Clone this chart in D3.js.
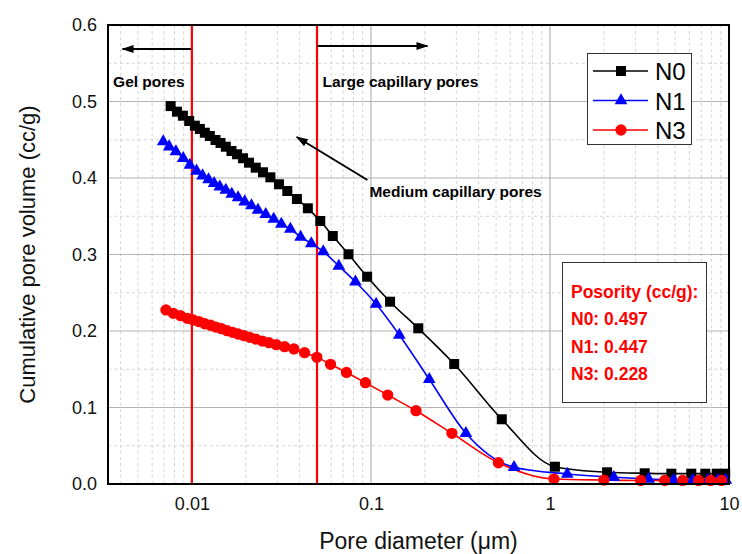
<!DOCTYPE html>
<html>
<head>
<meta charset="utf-8">
<script src="https://cdn.jsdelivr.net/npm/d3@7"></script>
<style>
body{margin:0;background:#fff;}
svg text{font-family:Arial,"Liberation Sans",sans-serif;}
</style>
</head>
<body>
<div id="chart"></div>
<script>
// 数据：孔径 (μm) 与累计孔体积 (cc/g)
const n0Diameter = [0.00761,0.00825,0.00891,0.00966,0.01039,0.01108,0.01181,0.0126,0.01355,0.01445,0.01547,0.01664,0.01788,0.01931,0.02085,0.02273,0.02495,0.02744,0.03064,0.03412,0.03861,0.04444,0.05212,0.06125,0.07494,0.09524,0.1279,0.1839,0.2918,0.5382,1.066,2.085,3.382,4.764,6.157,7.37,8.551,9.524];
const n0Volume = [0.494,0.4867,0.4814,0.4745,0.4684,0.4641,0.4592,0.4549,0.4497,0.4458,0.4409,0.4353,0.431,0.4258,0.42,0.4135,0.4075,0.4009,0.3918,0.383,0.3725,0.3604,0.3438,0.3242,0.3003,0.271,0.2383,0.2035,0.1569,0.0846,0.0226,0.0153,0.014,0.0135,0.0135,0.0135,0.0135,0.0135];

const n1Diameter = [0.00692,0.00747,0.008144,0.008945,0.009747,0.01062,0.01147,0.01239,0.01331,0.01432,0.01547,0.0167,0.01811,0.01973,0.02151,0.02341,0.02584,0.02863,0.0316,0.03548,0.04047,0.04644,0.05417,0.06617,0.08194,0.1069,0.1441,0.2118,0.3392,0.6301,1.249,2.273,3.561,4.908,6.263,7.619,8.661,9.601];
const n1Volume = [0.4475,0.4409,0.4344,0.4258,0.417,0.4092,0.403,0.3978,0.3931,0.3886,0.3843,0.3791,0.3743,0.369,0.3638,0.3582,0.3525,0.3464,0.3399,0.3333,0.3229,0.3144,0.3039,0.285,0.2644,0.2353,0.1948,0.1369,0.0663,0.0218,0.0131,0.0088,0.0065,0.0052,0.0052,0.0052,0.0052,0.0052];

const n3Diameter = [0.007164,0.007866,0.00865,0.009415,0.01017,0.01098,0.01181,0.01271,0.0136,0.01463,0.01573,0.01686,0.01811,0.01956,0.02103,0.02273,0.02475,0.02695,0.02963,0.03296,0.03715,0.04262,0.04988,0.05947,0.07302,0.0932,0.1241,0.1786,0.2834,0.5152,1.053,2.0,3.214,4.373,5.508,6.763,7.886,9.082];
const n3Volume = [0.2275,0.2231,0.22,0.2166,0.2144,0.2122,0.2095,0.2075,0.2052,0.203,0.2004,0.1983,0.1961,0.1939,0.1918,0.1895,0.1869,0.1847,0.1821,0.1795,0.1765,0.1716,0.1656,0.1565,0.1458,0.1324,0.1163,0.0958,0.0663,0.0278,0.0065,0.0052,0.0046,0.0046,0.0046,0.0046,0.0046,0.0046];

const seriesNames = ["N0","N1","N3"];
const porosity = ["0.497","0.447","0.228"];

const xTicks = [0.01,0.1,1,10];
const xTickLabels = ["0.01","0.1","1","10"];
const yTicks = [0,0.1,0.2,0.3,0.4,0.5,0.6];
const yTickLabels = ["0.0","0.1","0.2","0.3","0.4","0.5","0.6"];
const boundaryLines = [0.01,0.05];   // 凝胶孔 / 中毛细孔 / 大毛细孔 分界

const colors = {"N0":"#000000","N1":"#0000ff","N3":"#ff0000"};
const symbols = {"N0":d3.symbolSquare,"N1":d3.symbolTriangle,"N3":d3.symbolCircle};
const symSize = {"N0":100,"N1":70,"N3":100};

//定义画布
const width = 742, height = 554;
const margin = {top:25, right:13, bottom:70, left:108};

const svg = d3.select("#chart").append("svg")
  .attr("width", width)
  .attr("height", height);

svg.append("defs").append("marker")
  .attr("id","arrowhead")
  .attr("viewBox","0 0 12 10")
  .attr("refX",11).attr("refY",5)
  .attr("markerWidth",13).attr("markerHeight",10)
  .attr("markerUnits","userSpaceOnUse")
  .attr("orient","auto")
  .append("path")
  .attr("d","M0,1 L12,5 L0,9 Z")
  .attr("fill","#000");

const x = d3.scaleLog()
  .domain([0.0034, 10])
  .range([margin.left, width - margin.right]);
const y = d3.scaleLinear()
  .domain([0, 0.6])
  .range([height - margin.bottom, margin.top]);

const [x0, x1] = x.range();
const [y0, y1] = y.range();

//网格 - 次网格虚线
const minorX = [];
[0.001,0.01,0.1,1].forEach(dec => {
  for(let k=2;k<10;k++){
    const v = dec*k;
    if(v > x.domain()[0] && v < x.domain()[1]) minorX.push(v);
  }
});
const minorY = d3.range(0.05, 0.6, 0.1);

const grid = svg.append("g");
grid.selectAll(".minorx").data(minorX).join("line")
  .attr("x1", d => x(d)).attr("x2", d => x(d))
  .attr("y1", y1).attr("y2", y0)
  .attr("stroke","#d4d4d4").attr("stroke-width",1)
  .attr("stroke-dasharray","3,3");
grid.selectAll(".minory").data(minorY).join("line")
  .attr("x1", x0).attr("x2", x1)
  .attr("y1", d => y(d)).attr("y2", d => y(d))
  .attr("stroke","#d4d4d4").attr("stroke-width",1)
  .attr("stroke-dasharray","3,3");
//主网格
grid.selectAll(".majorx").data(xTicks.slice(0,3)).join("line")
  .attr("x1", d => x(d)).attr("x2", d => x(d))
  .attr("y1", y1).attr("y2", y0)
  .attr("stroke","#b4b4b4").attr("stroke-width",1.2);
grid.selectAll(".majory").data(yTicks.slice(1,6)).join("line")
  .attr("x1", x0).attr("x2", x1)
  .attr("y1", d => y(d)).attr("y2", d => y(d))
  .attr("stroke","#b4b4b4").attr("stroke-width",1.2);

//红色分界线
svg.append("g").selectAll("line").data(boundaryLines).join("line")
  .attr("x1", d => x(d)).attr("x2", d => x(d))
  .attr("y1", y1).attr("y2", y0)
  .attr("stroke","#ff0000").attr("stroke-width",2.2);

//曲线
const series = [
  {name:"N0", data: n0Diameter.map((d,i) => ({D:d, V:n0Volume[i]}))},
  {name:"N1", data: n1Diameter.map((d,i) => ({D:d, V:n1Volume[i]}))},
  {name:"N3", data: n3Diameter.map((d,i) => ({D:d, V:n3Volume[i]}))}
];

const line = d3.line()
  .x(d => x(d.D))
  .y(d => y(d.V))
  .curve(d3.curveMonotoneX);

const plot = svg.append("g");
series.forEach(s => {
  plot.append("path")
    .datum(s.data)
    .attr("fill","none")
    .attr("stroke", colors[s.name])
    .attr("stroke-width",1.6)
    .attr("d", line);
});
series.forEach(s => {
  plot.append("g").selectAll("path").data(s.data).join("path")
    .attr("transform", d => `translate(${x(d.D)},${y(d.V)})`)
    .attr("d", d3.symbol().type(symbols[s.name]).size(symSize[s.name]))
    .attr("fill", colors[s.name]);
});

//箭头与文字注释（数据坐标）
const ann = svg.append("g");
const arrows = [
  {from:[0.0099,0.5686], to:[0.0041,0.5686]},
  {from:[0.0502,0.5725], to:[0.207,0.5725]},
  {from:[0.0956,0.3974], to:[0.0385,0.4536]}
];
arrows.forEach(a => {
  ann.append("line")
    .attr("x1", x(a.from[0])).attr("y1", y(a.from[1]))
    .attr("x2", x(a.to[0])).attr("y2", y(a.to[1]))
    .attr("stroke","#000").attr("stroke-width",2)
    .attr("marker-end","url(#arrowhead)");
});
const labels = [
  {text:"Gel pores", at:[0.00363,0.5187]},
  {text:"Large capillary pores", at:[0.0536,0.5187]},
  {text:"Medium capillary pores", at:[0.0981,0.3756]}
];
ann.selectAll("text").data(labels).join("text")
  .attr("x", d => x(d.at[0]))
  .attr("y", d => y(d.at[1]))
  .attr("font-size","15.5px")
  .attr("font-weight","bold")
  .attr("fill","#000")
  .text(d => d.text);

//坐标轴
const xAxis = svg.append("g")
  .attr("transform", `translate(0,${y0})`)
  .call(d3.axisBottom(x).tickValues(xTicks).tickFormat((d,i) => xTickLabels[i]).tickSize(0).tickPadding(13));
xAxis.select(".domain").remove();
xAxis.selectAll("text").attr("font-size","18px").attr("font-family","Arial, 'Liberation Sans', sans-serif").attr("fill","#111");

const yAxis = svg.append("g")
  .attr("transform", `translate(${x0},0)`)
  .call(d3.axisLeft(y).tickValues(yTicks).tickFormat((d,i) => yTickLabels[i]).tickSize(0).tickPadding(11));
yAxis.select(".domain").remove();
yAxis.selectAll("text").attr("font-size","18px").attr("font-family","Arial, 'Liberation Sans', sans-serif").attr("fill","#111");

svg.append("text")
  .attr("x", (x0 + x1) / 2)
  .attr("y", 549)
  .attr("text-anchor","middle")
  .attr("font-size","23px")
  .attr("fill","#111")
  .text("Pore diameter (μm)");

svg.append("text")
  .attr("transform", `translate(35,${(y0 + y1) / 2}) rotate(-90)`)
  .attr("text-anchor","middle")
  .attr("font-size","22px")
  .attr("fill","#111")
  .text("Cumulative pore volume (cc/g)");

//图例
const legend = svg.append("g");
legend.append("rect")
  .attr("x",587.5).attr("y",53.5).attr("width",104).attr("height",91)
  .attr("fill","#fff").attr("stroke","#333").attr("stroke-width",1);
seriesNames.forEach((name,i) => {
  const ly = 71 + i*29.5;
  legend.append("line")
    .attr("x1",593).attr("x2",648).attr("y1",ly).attr("y2",ly)
    .attr("stroke", colors[name]).attr("stroke-width",1.6);
  legend.append("path")
    .attr("transform", `translate(621,${ly})`)
    .attr("d", d3.symbol().type(symbols[name]).size(symSize[name]))
    .attr("fill", colors[name]);
  legend.append("text")
    .attr("x",655).attr("y",ly + 9)
    .attr("font-size","24px")
    .attr("fill","#000")
    .text(name);
});

//孔隙率文本框
const box = svg.append("g");
box.append("rect")
  .attr("x",562.5).attr("y",262.5).attr("width",144).attr("height",140)
  .attr("fill","#fff").attr("stroke","#333").attr("stroke-width",1);
const boxLines = ["Posority (cc/g):"].concat(seriesNames.map((n,i) => `${n}: ${porosity[i]}`));
box.selectAll("text").data(boxLines).join("text")
  .attr("x",571)
  .attr("y",(d,i) => 298 + i*27.3)
  .attr("font-size","17.5px")
  .attr("font-weight","bold")
  .attr("fill","#ff0000")
  .text(d => d);

//外框
svg.append("rect")
  .attr("x", x0).attr("y", y1)
  .attr("width", x1 - x0).attr("height", y0 - y1)
  .attr("fill","none").attr("stroke","#000").attr("stroke-width",2);
</script>
</body>
</html>
